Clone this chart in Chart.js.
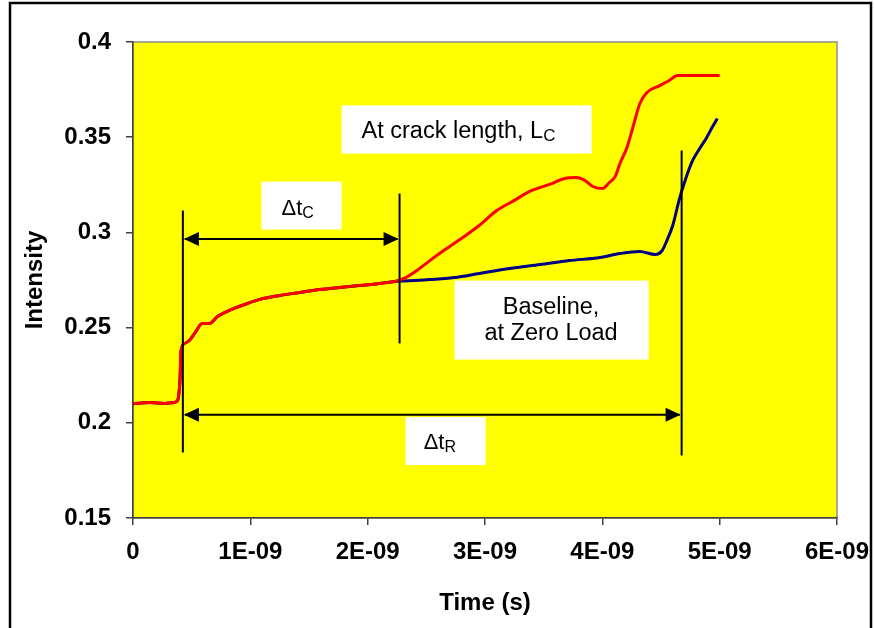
<!DOCTYPE html>
<html><head><meta charset="utf-8">
<script src="https://cdn.jsdelivr.net/npm/chart.js@4.4.0/dist/chart.umd.min.js"></script>
<style>html,body{margin:0;padding:0;background:#fff;}canvas{display:block;}</style>
</head><body>
<canvas id="c" width="874" height="628"></canvas>
<script>
// Time values in nanoseconds (axis labels shown in seconds)
const crackTime = [0,0.14,0.27,0.35,0.38,0.40,0.41,0.44,0.48,0.53,0.59,0.65,0.72,0.82,0.95,1.08,1.25,1.42,1.59,1.76,1.93,2.10,2.23,2.31,2.42,2.53,2.66,2.81,2.95,3.10,3.25,3.38,3.55,3.68,3.78,3.85,3.92,4.00,4.06,4.11,4.15,4.21,4.26,4.32,4.38,4.49,4.57,4.64,4.77,5.00];
const crackIntensity = [0.210,0.2107,0.2102,0.2107,0.2117,0.222,0.238,0.2417,0.2432,0.2474,0.2521,0.2521,0.2558,0.259,0.2621,0.2648,0.2669,0.2684,0.270,0.2711,0.2721,0.2732,0.2742,0.2758,0.280,0.2852,0.291,0.2973,0.3036,0.3115,0.3168,0.3215,0.3252,0.3283,0.3288,0.3273,0.3241,0.323,0.3262,0.3294,0.3362,0.3446,0.3551,0.3677,0.3735,0.3771,0.3798,0.3824,0.3824,0.3824];
const baseTime = [0,0.14,0.27,0.35,0.38,0.40,0.41,0.44,0.48,0.53,0.59,0.65,0.72,0.82,0.95,1.08,1.25,1.42,1.59,1.76,1.93,2.10,2.23,2.31,2.53,2.74,2.95,3.21,3.47,3.72,3.98,4.15,4.32,4.45,4.51,4.55,4.60,4.66,4.72,4.77,4.83,4.89,4.94,4.98];
const baseIntensity = [0.210,0.2107,0.2102,0.2107,0.2117,0.222,0.238,0.2417,0.2432,0.2474,0.2521,0.2521,0.2558,0.259,0.2621,0.2648,0.2669,0.2684,0.270,0.2711,0.2721,0.2732,0.2742,0.2745,0.2752,0.2763,0.2784,0.281,0.2831,0.2852,0.2868,0.2889,0.290,0.2884,0.2905,0.2957,0.3036,0.3183,0.3299,0.3378,0.3441,0.3499,0.3556,0.3598];
const xTickLabels = ['0','1E-09','2E-09','3E-09','4E-09','5E-09','6E-09'];
const yTickLabels = ['0.15','0.2','0.25','0.3','0.35','0.4'];

// Annotation markers (data units)
const markerTimes = [0.425, 2.272, 4.676];
const markerTop = [0.3115, 0.3204, 0.343];
const markerBottom = [0.1844, 0.2417, 0.1828];
const arrowLevels = [0.2965, 0.2042]; // delta tC, delta tR

const FONT = '"Liberation Sans", Arial, sans-serif';

function richText(ctx, x, y, segs, align) {
  let w = 0;
  segs.forEach(s => { ctx.font = s[1] + 'px ' + FONT; w += ctx.measureText(s[0]).width; });
  let cx = align === 'center' ? x - w / 2 : x;
  segs.forEach(s => {
    ctx.font = s[1] + 'px ' + FONT;
    ctx.fillText(s[0], cx, y + s[2]);
    cx += ctx.measureText(s[0]).width;
  });
}

const annot = {
  id: 'annot',
  beforeDraw(chart) {
    const {ctx, chartArea: a} = chart;
    ctx.save();
    ctx.fillStyle = '#fff';
    ctx.fillRect(0, 0, chart.width, chart.height);
    ctx.fillStyle = '#FFFF00';
    ctx.fillRect(a.left, a.top, a.right - a.left, a.bottom - a.top);
    ctx.strokeStyle = '#8c8c8c';
    ctx.lineWidth = 1.5;
    ctx.strokeRect(a.left, a.top, a.right - a.left, a.bottom - a.top);
    ctx.restore();
  },
  afterDatasetsDraw(chart) {
    const {ctx, scales: {x, y}} = chart;
    const X = v => x.getPixelForValue(v), Y = v => y.getPixelForValue(v);
    ctx.save();
    ctx.strokeStyle = '#000';
    ctx.fillStyle = '#000';
    ctx.lineWidth = 2;
    for (let i = 0; i < markerTimes.length; i++) {
      ctx.beginPath();
      ctx.moveTo(X(markerTimes[i]), Y(markerTop[i]));
      ctx.lineTo(X(markerTimes[i]), Y(markerBottom[i]));
      ctx.stroke();
    }
    const arrow = (x1, x2, yy) => {
      ctx.beginPath(); ctx.moveTo(x1 + 2, yy); ctx.lineTo(x2 - 2, yy); ctx.stroke();
      ctx.beginPath(); ctx.moveTo(x1 + 1, yy); ctx.lineTo(x1 + 16, yy - 7); ctx.lineTo(x1 + 16, yy + 7); ctx.closePath(); ctx.fill();
      ctx.beginPath(); ctx.moveTo(x2 - 1, yy); ctx.lineTo(x2 - 16, yy - 7); ctx.lineTo(x2 - 16, yy + 7); ctx.closePath(); ctx.fill();
    };
    arrow(X(markerTimes[0]), X(markerTimes[1]), Y(arrowLevels[0]));
    arrow(X(markerTimes[0]), X(markerTimes[2]), Y(arrowLevels[1]));

    const box = (t1, t2, v1, v2) => {
      ctx.fillStyle = '#fff';
      ctx.fillRect(X(t1), Y(v1), X(t2) - X(t1), Y(v2) - Y(v1));
    };
    box(1.778, 3.909, 0.3667, 0.3414);
    box(1.095, 1.778, 0.3267, 0.3015);
    box(2.741, 4.395, 0.2747, 0.2332);
    box(2.323, 3.005, 0.2030, 0.1778);

    ctx.fillStyle = '#000';
    ctx.textBaseline = 'alphabetic';
    ctx.textAlign = 'left';
    richText(ctx, X(1.948), Y(0.3498), [['At crack length, L', 23.5, 0], ['C', 17, 3]], 'left');
    richText(ctx, X(1.266), Y(0.3094), [['\u0394t', 22, 0], ['C', 16, 3]], 'left');
    richText(ctx, X(2.477), Y(0.1860), [['\u0394t', 22, 0], ['R', 16, 3]], 'left');
    richText(ctx, X(3.563), Y(0.2574), [['Baseline,', 23.5, 0]], 'center');
    richText(ctx, X(3.563), Y(0.2435), [['at Zero Load', 23.5, 0]], 'center');
    ctx.restore();
  },
  afterDraw(chart) {
    const {ctx} = chart;
    ctx.save();
    ctx.strokeStyle = '#000';
    ctx.lineWidth = 2.5;
    ctx.strokeRect(10, 3, 861, 660);
    ctx.restore();
  }
};

const tickFont = {family: FONT, weight: 'bold', size: 24};

new Chart(document.getElementById('c'), {
  type: 'line',
  data: {
    datasets: [
      {
        label: 'At crack length',
        data: crackTime.map((t, i) => ({x: t, y: crackIntensity[i]})),
        borderColor: '#FF0000', borderWidth: 3, pointRadius: 0,
        cubicInterpolationMode: 'monotone', order: 0, fill: false
      },
      {
        label: 'Baseline',
        data: baseTime.map((t, i) => ({x: t, y: baseIntensity[i]})),
        borderColor: '#000080', borderWidth: 3, pointRadius: 0,
        cubicInterpolationMode: 'monotone', order: 1, fill: false
      }
    ]
  },
  options: {
    responsive: false, animation: false, devicePixelRatio: 1,
    layout: {padding: {top: 42, right: 37, left: 0, bottom: 0}},
    plugins: {legend: {display: false}, tooltip: {enabled: false}},
    scales: {
      x: {
        type: 'linear', min: 0, max: 6,
        afterFit: s => { s.height = 110; s.paddingLeft = 0; s.paddingRight = 0; },
        ticks: {stepSize: 1, color: '#000', font: tickFont, padding: 13, maxRotation: 0,
          callback: v => xTickLabels[Math.round(v)]},
        grid: {drawOnChartArea: false, drawTicks: true, tickLength: 7, color: '#404040', lineWidth: 1.5},
        border: {display: true, color: '#404040', width: 1.5},
        title: {display: true, text: 'Time (s)', color: '#000', font: tickFont, padding: {top: 4, bottom: 10}}
      },
      y: {
        type: 'linear', min: 0.15, max: 0.4,
        afterFit: s => { s.width = 133; s.paddingTop = 0; s.paddingBottom = 0; },
        ticks: {stepSize: 0.05, color: '#000', font: tickFont, padding: 15,
          callback: v => yTickLabels[Math.round((v - 0.15) / 0.05)]},
        grid: {drawOnChartArea: false, drawTicks: true, tickLength: 7, color: '#404040', lineWidth: 1.5},
        border: {display: true, color: '#404040', width: 1.5},
        title: {display: true, text: 'Intensity', color: '#000', font: tickFont, padding: {top: 21, bottom: 4}}
      }
    }
  },
  plugins: [annot]
});
</script>
</body></html>
